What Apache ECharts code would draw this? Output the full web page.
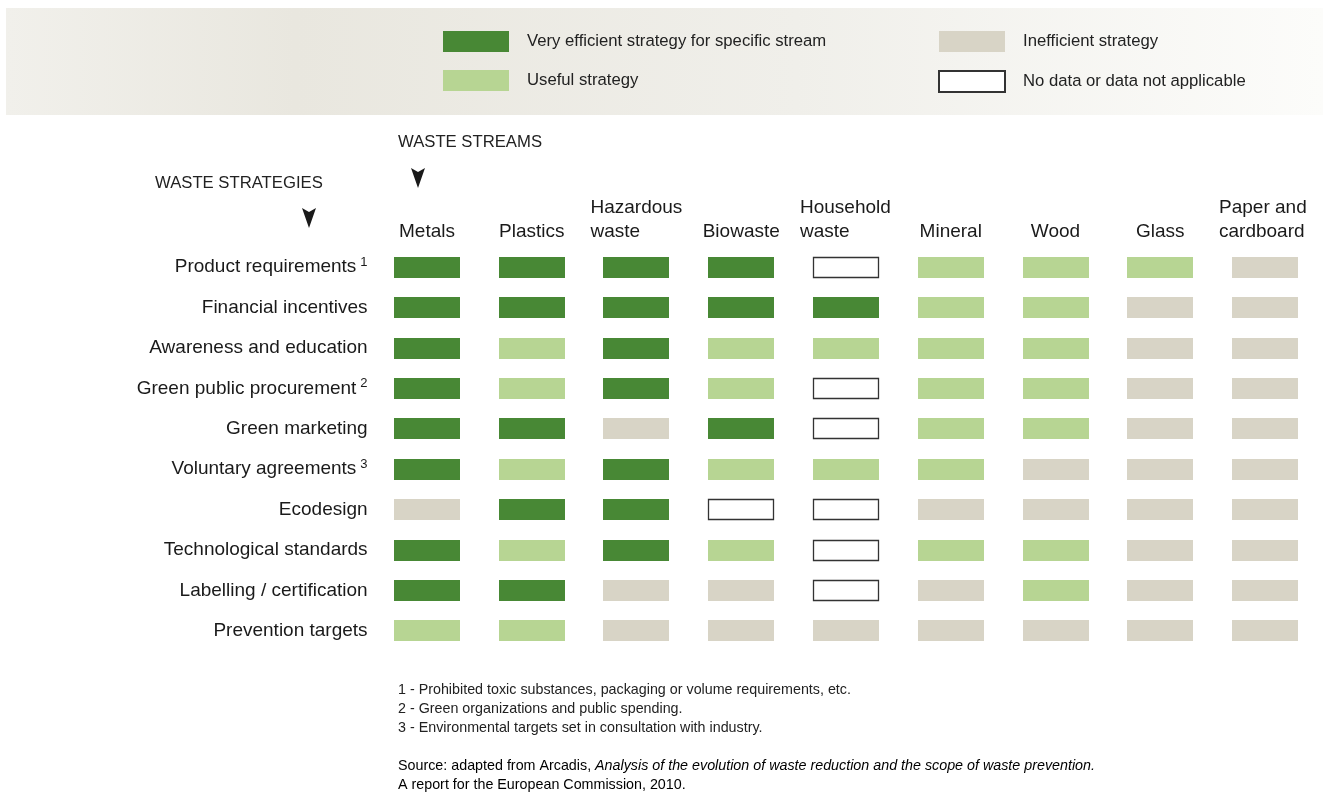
<!DOCTYPE html>
<html>
<head>
<meta charset="utf-8">
<script src="https://cdn.jsdelivr.net/npm/echarts@6/dist/echarts.min.js"></script>
<style>
  html, body { margin: 0; padding: 0; background: #fff; }
  #chart { width: 1323px; height: 796px; }
</style>
</head>
<body>
<div id="chart"></div>
<script>
// waste streams (columns) and strategies (rows)
const streams = ['Metals', 'Plastics', 'Hazardous\nwaste', 'Biowaste', 'Household\nwaste',
  'Mineral', 'Wood', 'Glass', 'Paper and\ncardboard'];
const strategies = ['Product requirements|1', 'Financial incentives', 'Awareness and education',
  'Green public procurement|2', 'Green marketing', 'Voluntary agreements|3', 'Ecodesign',
  'Technological standards', 'Labelling / certification', 'Prevention targets'];

// 3 = very efficient, 2 = useful, 1 = inefficient, 0 = no data
const productRequirements = [3, 3, 3, 3, 0, 2, 2, 2, 1];
const financialIncentives = [3, 3, 3, 3, 3, 2, 2, 1, 1];
const awarenessEducation  = [3, 2, 3, 2, 2, 2, 2, 1, 1];
const greenProcurement    = [3, 2, 3, 2, 0, 2, 2, 1, 1];
const greenMarketing      = [3, 3, 1, 3, 0, 2, 2, 1, 1];
const voluntaryAgreements = [3, 2, 3, 2, 2, 2, 1, 1, 1];
const ecodesign           = [1, 3, 3, 0, 0, 1, 1, 1, 1];
const techStandards       = [3, 2, 3, 2, 0, 2, 2, 1, 1];
const labelling           = [3, 3, 1, 1, 0, 1, 2, 1, 1];
const preventionTargets   = [2, 2, 1, 1, 1, 1, 1, 1, 1];

const levelNames = ['No data or data not applicable', 'Inefficient strategy',
  'Useful strategy', 'Very efficient strategy for specific stream'];

const rows = [productRequirements, financialIncentives, awarenessEducation, greenProcurement,
  greenMarketing, voluntaryAgreements, ecodesign, techStandards, labelling, preventionTargets];

const FONT = '"Liberation Sans", Arial, Helvetica, sans-serif';
const colors = ['#ffffff', '#d8d4c6', '#b7d593', '#488835'];
const CELL_W = 66, CELL_H = 21;

function cellsFor(level) {
  const out = [];
  rows.forEach((r, ri) => r.forEach((v, ci) => { if (v === level) out.push([ci, ri]); }));
  return out;
}

function renderCell(level) {
  return function (params, api) {
    const c = api.coord([api.value(0), api.value(1)]);
    const x = Math.round(c[0] - CELL_W / 2);
    const y = Math.round(c[1] - CELL_H / 2);
    if (level === 0) {
      return {
        type: 'rect',
        shape: { x: x + 0.5, y: y + 0.5, width: CELL_W - 1, height: CELL_H - 1 },
        style: { fill: '#ffffff', stroke: '#333333', lineWidth: 1.3 }
      };
    }
    return {
      type: 'rect',
      shape: { x: x, y: y, width: CELL_W, height: CELL_H },
      style: { fill: colors[level] }
    };
  };
}

const series = [3, 2, 1, 0].map(level => ({
  name: levelNames[level],
  type: 'custom',
  silent: true,
  renderItem: renderCell(level),
  itemStyle: level === 0
    ? { color: '#ffffff', borderColor: '#333333', borderWidth: 1.3 }
    : { color: colors[level] },
  encode: { x: 0, y: 1 },
  data: cellsFor(level)
}));

const chart = echarts.init(document.getElementById('chart'), null, { renderer: 'canvas' });

const legendText = { fontFamily: FONT, fontSize: 16.7, color: '#222', padding: [0, 0, 0, 13] };

chart.setOption({
  animation: false,
  backgroundColor: '#ffffff',
  graphic: [
    {
      type: 'rect', z: -10, silent: true,
      shape: { x: 6, y: 8, width: 1317, height: 107 },
      style: {
        fill: new echarts.graphic.LinearGradient(0, 0, 1, 0, [
          { offset: 0, color: '#f1f0eb' },
          { offset: 0.22, color: '#e9e7df' },
          { offset: 0.6, color: '#f0efea' },
          { offset: 1, color: '#fcfcfa' }
        ])
      }
    },
    { type: 'text', left: 398, top: 134, style: { text: 'WASTE STREAMS', font: '16.7px ' + FONT, fill: '#222' } },
    { type: 'text', left: 155, top: 175, style: { text: 'WASTE STRATEGIES', font: '16.7px ' + FONT, fill: '#222' } },
    { type: 'polygon', x: 418, y: 178, shape: { points: [[-7, -10], [0, -6], [7, -10], [0, 10]] }, style: { fill: '#1a1a1a' } },
    { type: 'polygon', x: 309, y: 218, shape: { points: [[-7, -10], [0, -6], [7, -10], [0, 10]] }, style: { fill: '#1a1a1a' } },
    {
      type: 'text', left: 398, top: 681,
      style: {
        text: '1 - Prohibited toxic substances, packaging or volume requirements, etc.\n' +
              '2 - Green organizations and public spending.\n' +
              '3 - Environmental targets set in consultation with industry.',
        font: '14.3px ' + FONT, lineHeight: 19, fill: '#222'
      }
    },
    {
      type: 'text', left: 398, top: 759,
      style: {
        text: '{n|Source: adapted from Arcadis, }{i|Analysis of the evolution of waste reduction and the scope of waste prevention.}\n' +
              '{n|A report for the European Commission, 2010.}',
        rich: {
          n: { fontFamily: FONT, fontSize: 14.3, lineHeight: 19, color: '#222' },
          i: { fontFamily: FONT, fontSize: 14.3, fontStyle: 'italic', lineHeight: 19, color: '#222' }
        }
      }
    }
  ],
  legend: [
    {
      left: 443, top: 31, padding: 0, orient: 'vertical', itemWidth: CELL_W, itemHeight: CELL_H, itemGap: 18,
      selectedMode: false, icon: 'rect', textStyle: legendText,
      data: [levelNames[3], levelNames[2]]
    },
    {
      left: 938, top: 31, padding: 0, orient: 'vertical', itemWidth: CELL_W, itemHeight: CELL_H, itemGap: 18,
      selectedMode: false, icon: 'rect', textStyle: legendText,
      data: [levelNames[1], levelNames[0]]
    }
  ],
  grid: { left: 374.6, top: 247, width: 942.8, height: 404, containLabel: false },
  xAxis: {
    type: 'category',
    position: 'top',
    data: streams,
    axisLine: { show: false },
    axisTick: { show: false },
    splitLine: { show: false },
    axisLabel: {
      interval: 0,
      margin: 3,
      formatter: v => v.indexOf('\n') >= 0
        ? v.split('\n').map(s => '{w|' + s + '}').join('\n')
        : '{s|' + v + '}',
      rich: {
        w: { fontFamily: FONT, fontSize: 19, color: '#1a1a1a', width: 92, align: 'left', lineHeight: 24 },
        s: { fontFamily: FONT, fontSize: 19, color: '#1a1a1a', lineHeight: 24 }
      }
    }
  },
  yAxis: {
    type: 'category',
    inverse: true,
    data: strategies,
    axisLine: { show: false },
    axisTick: { show: false },
    splitLine: { show: false },
    axisLabel: {
      interval: 0,
      margin: 7,
      formatter: v => {
        const p = v.split('|');
        return p.length > 1 ? '{t|' + p[0] + '}{sup|' + p[1] + '}' : '{t|' + p[0] + '}';
      },
      rich: {
        t: { fontFamily: FONT, fontSize: 19, color: '#1a1a1a' },
        sup: { fontFamily: FONT, fontSize: 13, color: '#1a1a1a', padding: [0, 0, 9, 4] }
      }
    }
  },
  series: series
});
</script>
</body>
</html>
